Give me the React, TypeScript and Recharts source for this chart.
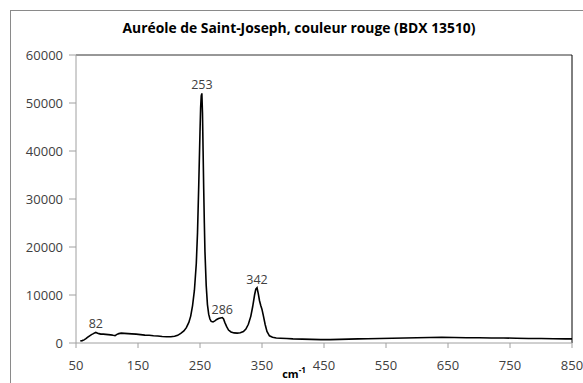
import React from "react";
import { LineChart, Line, XAxis, YAxis, ReferenceLine } from "recharts";

const ramanShift = [
  57, 60, 63, 66, 69, 72, 75, 78, 80, 82, 84, 87, 90, 94, 98, 102, 106, 110,
  113, 116, 119, 123, 128, 134, 140, 147, 154, 161, 168, 175, 182, 189, 196,
  203, 209, 214, 219, 224, 228, 232, 235, 238, 241, 244, 246, 248, 250, 251,
  252, 253, 254, 255, 256, 257, 258, 260, 262, 264, 266, 268, 271, 274, 277,
  280, 283, 286, 288, 290, 293, 296, 300, 305, 310, 315, 320, 324, 328, 332,
  335, 338, 340, 342, 344, 346, 348, 350, 352, 355, 358, 362, 367, 373, 380,
  390, 400, 415, 430, 445, 460, 475, 490, 505, 520, 540, 560, 580, 600, 620,
  640, 660, 680, 700, 720, 740, 760, 780, 800, 820, 840, 850,
];

const intensity = [
  450, 500, 650, 900, 1200, 1500, 1750, 1950, 2100, 2200, 2100, 1950, 1850,
  1850, 1800, 1750, 1700, 1600, 1550, 1800, 1950, 2050, 2000, 1950, 1900, 1850,
  1750, 1650, 1600, 1500, 1450, 1350, 1300, 1300, 1400, 1600, 2000, 2500, 3200,
  4300, 5600, 7800, 11000, 16500, 23000, 33000, 44000, 49000, 51500, 52000,
  48000, 40000, 32000, 25000, 19000, 12000, 8000, 6000, 5000, 4500, 4400, 4600,
  4900, 5100, 5200, 5300, 5000, 4300, 3400, 2700, 2300, 2100, 2050, 2150, 2400,
  2900, 3900, 5600, 7600, 10000, 11200, 11500, 10300, 8800, 7800, 7000, 5800,
  3900, 2400, 1500, 1200, 1050, 1000, 950, 850, 800, 750, 700, 700, 750, 800,
  850, 900, 950, 1000, 1050, 1100, 1150, 1200, 1150, 1100, 1100, 1050, 1050,
  1000, 950, 950, 900, 850, 850,
];

const peaks = [82, 253, 286, 342];

const xTicks = [50, 150, 250, 350, 450, 550, 650, 750, 850];
const yTicks = [0, 10000, 20000, 30000, 40000, 50000, 60000];

const data = ramanShift.map((x, i) => ({ x, y: intensity[i] }));

const FONT = "'Open Sans', sans-serif";
const TEXT = "#404040";
const AXIS = "#a0a0a0";

const renderPeakLabel = (props: any) => {
  const { x, y, index } = props;
  const shift = ramanShift[index];
  if (!peaks.includes(shift)) return null;
  return (
    <text
      key={`peak-${index}`}
      x={x}
      y={y - 4}
      textAnchor="middle"
      fontFamily={FONT}
      fontSize={12.5}
      fill={TEXT}
    >
      {shift}
    </text>
  );
};

export default function App() {
  return (
    <div
      style={{
        position: "absolute",
        left: 0,
        top: 0,
        width: 583,
        height: 383,
        background: "#fff",
        overflow: "hidden",
      }}
    >
      <div
        style={{
          position: "absolute",
          left: 10,
          top: 10,
          width: 600,
          height: 400,
          border: "1.5px solid #8a8a8a",
        }}
      />
      <div style={{ position: "absolute", left: 0, top: 0 }}>
        <LineChart
          width={583}
          height={383}
          data={data}
          margin={{ top: 55, right: 11, left: 0, bottom: 0 }}
        >
          <XAxis
            dataKey="x"
            type="number"
            domain={[50, 850]}
            ticks={xTicks}
            interval={0}
            height={40}
            stroke={AXIS}
            tickSize={5}
            tickMargin={13}
            tick={{ fill: TEXT, fontSize: 13, fontFamily: FONT }}
          />
          <YAxis
            type="number"
            domain={[0, 60000]}
            ticks={yTicks}
            interval={0}
            width={76}
            stroke={AXIS}
            tickSize={7}
            tickMargin={6}
            tick={{ fill: TEXT, fontSize: 13, fontFamily: FONT }}
          />
          <ReferenceLine y={60000} stroke="#303030" strokeWidth={1} />
          <ReferenceLine x={850} stroke="#000" strokeWidth={1} />
          <Line
            dataKey="y"
            type="linear"
            stroke="#000"
            strokeWidth={1.6}
            dot={false}
            isAnimationActive={false}
            label={renderPeakLabel}
          />
        </LineChart>
      </div>
      <svg
        width={583}
        height={383}
        style={{ position: "absolute", left: 0, top: 0, pointerEvents: "none" }}
      >
        <text
          x={299}
          y={33}
          textAnchor="middle"
          fontFamily={FONT}
          fontWeight="bold"
          fontSize={14}
          fill="#000"
          textLength={353}
          lengthAdjust="spacingAndGlyphs"
        >
          Auréole de Saint-Joseph, couleur rouge (BDX 13510)
        </text>
        <text
          x={294}
          y={378}
          textAnchor="middle"
          fontFamily={FONT}
          fontWeight="bold"
          fontSize={11}
          fill="#000"
        >
          cm
          <tspan dy={-5} fontSize={8}>
            -1
          </tspan>
        </text>
      </svg>
    </div>
  );
}
